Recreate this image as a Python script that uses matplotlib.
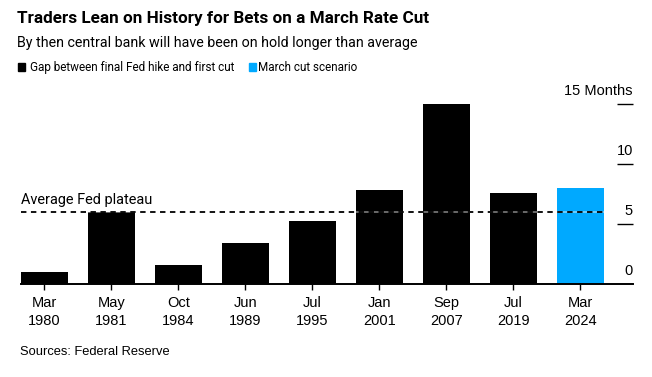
import matplotlib
matplotlib.use("Agg")
import matplotlib.pyplot as plt
from matplotlib.patches import Rectangle
import matplotlib.transforms as mtransforms
from matplotlib import font_manager

plt.rcParams['font.family'] = ['Liberation Sans', 'DejaVu Sans']

# ---- data ----
categories = ["Mar\n1980", "May\n1981", "Oct\n1984", "Jun\n1989", "Jul\n1995",
              "Jan\n2001", "Sep\n2007", "Jul\n2019", "Mar\n2024"]
gap_months = [1.0, 6.0, 1.55, 3.4, 5.2, 7.8, 15.0, 7.55, 8.0]
is_scenario = [False, False, False, False, False, False, False, False, True]
average_plateau = 5.95
y_ticks = [0, 5, 10, 15]
y_tick_labels = ["0", "5", "10", "15 Months"]

title = "Traders Lean on History for Bets on a March Rate Cut"
subtitle = "By then central bank will have been on hold longer than average"
legend_labels = ["Gap between final Fed hike and first cut", "March cut scenario"]
source = "Sources: Federal Reserve"

BLACK = "#000000"
BLUE = "#00A9FF"


def has_font(name):
    try:
        font_manager.findfont(font_manager.FontProperties(family=name),
                              fallback_to_default=False)
        return True
    except Exception:
        return False


TITLE_FONT = "Liberation Sans Narrow" if has_font("Liberation Sans Narrow") else "Roboto"
TEXT_FONT = "Roboto" if has_font("Roboto") else "Liberation Sans"

W, H = 652, 377
fig = plt.figure(figsize=(W / 100, H / 100), dpi=100)
fig.patch.set_facecolor("white")
renderer = fig.canvas.get_renderer()


def fit(t, target_px):
    for _ in range(3):
        w = t.get_window_extent(renderer=renderer).width
        t.set_fontsize(t.get_fontsize() * target_px / w)
    return t


ax_left, ax_right = 21 / W, 633 / W
ax_bottom = (H - 283.5) / H
ax_h = 15.2 * 12 / H
ax = fig.add_axes([ax_left, ax_bottom, ax_right - ax_left, ax_h])

x = list(range(len(categories)))
colors = [BLUE if s else BLACK for s in is_scenario]
ax.bar(x, gap_months, width=0.7, color=colors, zorder=2)

ax.set_xlim(-0.35, len(categories) - 1 + 0.79)
ax.set_ylim(0, 15.2)

# average line
ax.plot([-0.35, len(categories) - 1 + 0.35], [average_plateau] * 2,
        color="white", alpha=0.45, lw=1.3, zorder=3, solid_capstyle="butt")
ax.plot([-0.35, len(categories) - 1 + 0.35], [average_plateau] * 2,
        color="black", lw=1.3, ls=(0, (3, 2.5)), zorder=4)
avg_t = ax.annotate("Average Fed plateau", xy=(-0.35, average_plateau),
                    xytext=(0, 3.5), textcoords="offset points",
                    ha="left", va="bottom", fontsize=10.5, color="black",
                    family=TEXT_FONT)

# spines
for s in ["top", "left", "right"]:
    ax.spines[s].set_visible(False)
ax.spines["bottom"].set_linewidth(1.4)
ax.spines["bottom"].set_zorder(5)

ax.set_xticks(x)
ax.set_xticklabels(categories, fontsize=10.5, linespacing=1.35)
ax.tick_params(axis="x", length=4, width=1, pad=5, color="black")

ax.yaxis.tick_right()
ax.set_yticks(y_ticks[1:])
ax.tick_params(axis="y", direction="in", length=11.5, width=1, color="black",
               labelright=False, labelleft=False)
trans = mtransforms.blended_transform_factory(ax.transAxes, ax.transData)
ytexts = []
for v, lab in zip(y_ticks, y_tick_labels):
    ytexts.append(ax.annotate(lab, xy=(1.0, v), xycoords=trans, xytext=(0, 6.3),
                              textcoords="offset points", ha="right", va="baseline",
                              fontsize=10.5, color="black"))

# titles
t_title = fig.text(17 / W, 1 - 22.7 / H, title, fontsize=14.5, fontweight="bold",
                   ha="left", va="baseline", color="black", family=TITLE_FONT)
t_sub = fig.text(17 / W, 1 - 46.5 / H, subtitle, fontsize=11.8,
                 ha="left", va="baseline", color="black", family=TEXT_FONT)

# legend
fig.add_artist(Rectangle((18 / W, 1 - 70.5 / H), 7.5 / W, 7.5 / H,
                         transform=fig.transFigure, color=BLACK))
t_l1 = fig.text(30 / W, 1 - 71 / H, legend_labels[0], fontsize=9.6,
                ha="left", va="baseline", family=TEXT_FONT)
fig.add_artist(Rectangle((248.5 / W, 1 - 70.5 / H), 7.5 / W, 7.5 / H,
                         transform=fig.transFigure, color=BLUE))
t_l2 = fig.text(258.5 / W, 1 - 71 / H, legend_labels[1], fontsize=9.6,
                ha="left", va="baseline", family=TEXT_FONT)

t_src = fig.text(20 / W, 1 - 355 / H, source, fontsize=9.5, ha="left",
                 va="baseline")

fit(t_title, 411)
fit(t_sub, 400)
fit(t_l1, 207)
fit(t_l2, 99)
fit(avg_t, 131)
fit(t_src, 150)

fig.savefig("out.png", dpi=100)
